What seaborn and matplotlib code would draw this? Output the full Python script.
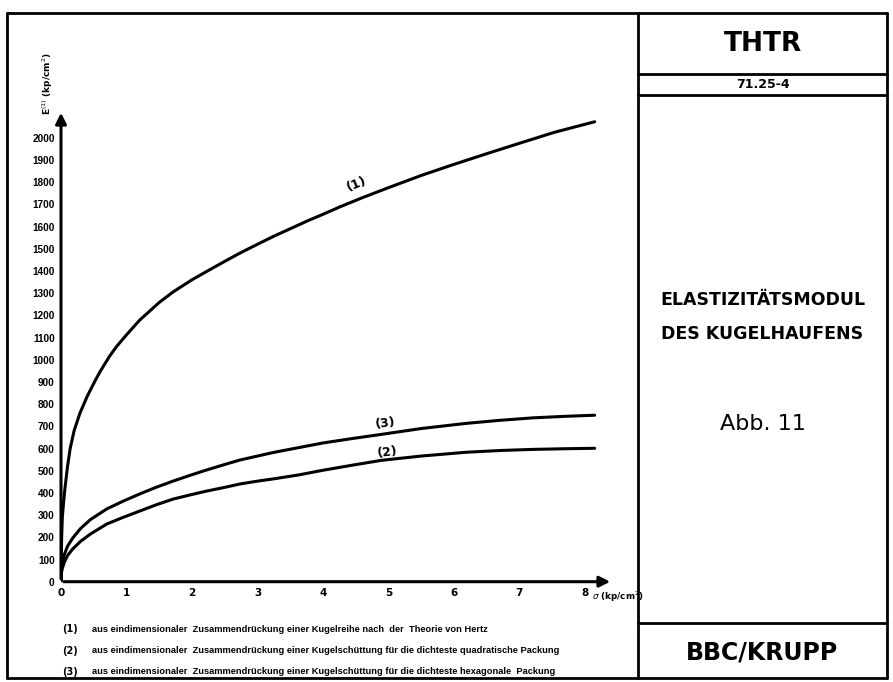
import matplotlib
matplotlib.use("Agg")
import matplotlib.pyplot as plt
import seaborn as sns
from matplotlib.lines import Line2D

# curve readings (sigma in kp/cm2, E in kp/cm2)
sigma_1 = [0, 0.005, 0.01, 0.02, 0.04, 0.06, 0.1, 0.14, 0.2, 0.29, 0.4, 0.52,
           0.6, 0.74, 0.85, 1.0, 1.2, 1.5, 1.71, 2.0, 2.22, 2.5, 2.73, 3.0,
           3.24, 3.5, 3.76, 4.0, 4.27, 4.62, 5.0, 5.5, 6.0, 6.5, 7.0, 7.54, 8.15]
e_1 = [0, 130, 200, 290, 360, 420, 520, 600, 680, 760, 835, 905,
       948, 1015, 1060, 1112, 1178, 1258, 1305, 1360, 1397, 1443, 1480, 1520,
       1555, 1590, 1625, 1655, 1690, 1732, 1775, 1830, 1880, 1928, 1975, 2025, 2072]

sigma_23 = [0, 0.005, 0.01, 0.02, 0.05, 0.1, 0.18, 0.3, 0.45, 0.7, 0.95,
            1.2, 1.45, 1.71, 2.0, 2.22, 2.5, 2.73, 3.0, 3.24, 3.63, 4.0,
            4.45, 4.9, 5.5, 6.18, 6.7, 7.2, 7.7, 8.15]
e_3 = [0, 45, 67, 90, 122, 160, 197, 240, 280, 328, 363,
       395, 425, 453, 482, 503, 528, 548, 566, 582, 604, 625,
       645, 664, 690, 713, 727, 738, 745, 750]
e_2 = [0, 30, 45, 60, 87, 118, 148, 182, 215, 260, 290,
       318, 346, 372, 393, 408, 425, 440, 453, 463, 481, 502,
       525, 547, 566, 583, 591, 596, 599, 601]

x_ticks = list(range(0, 9))
y_ticks = list(range(0, 2001, 100))

legend_lines = [
    ("(1)", "aus eindimensionaler  Zusammendrückung einer Kugelreihe nach  der  Theorie von Hertz"),
    ("(2)", "aus eindimensionaler  Zusammendrückung einer Kugelschüttung für die dichteste quadratische Packung"),
    ("(3)", "aus eindimensionaler  Zusammendrückung einer Kugelschüttung für die dichteste hexagonale  Packung"),
]

sns.set_style("white")
plt.rcParams['font.family'] = ['DejaVu Sans']
for key in ["text.color", "axes.labelcolor", "xtick.color", "ytick.color"]:
    plt.rcParams[key] = "black"

narrow = ['Liberation Sans', 'DejaVu Sans']

W, H = 893, 682
fig = plt.figure(figsize=(W / 100, H / 100), dpi=100)

def fx(px):
    return px / W

def fy(py):
    return 1 - py / H

# axes placed so data 0 sits on the drawn axes
ax = fig.add_axes([fx(61), fy(581.7), fx(613) - fx(61), fy(110) - fy(581.7)])
ax.set_xlim(0, 8.43)
ax.set_ylim(0, 2125)

for s, e in [(sigma_1, e_1), (sigma_23, e_3), (sigma_23, e_2)]:
    sns.lineplot(x=s, y=e, ax=ax, color="black", linewidth=2.2,
                 estimator=None, sort=False)

for sp in ax.spines.values():
    sp.set_visible(False)

# axis arrows
arrow = dict(arrowstyle="-|>", color="black", lw=2.2, mutation_scale=16)
ax.annotate("", xy=(0, 1), xytext=(0, 0), xycoords="axes fraction", arrowprops=arrow)
ax.annotate("", xy=(1, 0), xytext=(0, 0), xycoords="axes fraction", arrowprops=arrow)

ax.set_xticks(x_ticks)
ax.set_yticks(y_ticks)
ax.set_xticklabels([str(t) for t in x_ticks], fontsize=7.5, fontweight="bold")
ax.set_yticklabels([str(t) for t in y_ticks], fontsize=7.2, fontweight="bold", family=narrow)
ax.tick_params(axis="both", direction="inout", length=5, width=1.4, color="black", pad=2)
ax.set_xlabel("")
ax.set_ylabel("")
ax.grid(False)

# curve labels
ax.text(4.52, 1790, "(1)", fontsize=9, fontweight="bold", rotation=22, ha="center", va="center")
ax.text(4.95, 712, "(3)", fontsize=9, fontweight="bold", rotation=7, ha="center", va="center")
ax.text(4.99, 584, "(2)", fontsize=9, fontweight="bold", rotation=7, ha="center", va="center")

# axis titles
fig.text(fx(48), fy(84), r"E$^{(1)}$ (kp/cm$^2$)", rotation=90, fontsize=6.5,
         fontweight="bold", ha="center", va="center")
fig.text(fx(592), fy(597), r"$\sigma$ (kp/cm$^2$)", fontsize=6.3, fontweight="bold",
         ha="left", va="center")

# explanation lines under the chart
for i, (num, txt) in enumerate(legend_lines):
    y = fy(629 + i * 21.5)
    fig.text(fx(62), y, num, fontsize=7, fontweight="bold", va="center")
    fig.text(fx(92), y, txt, fontsize=6.7, fontweight="bold", family=narrow, va="center")

# drawing frame and title block
frame = dict(color="black", lw=2.0)
fig.add_artist(Line2D([fx(7), fx(887)], [fy(13), fy(13)], **frame))
fig.add_artist(Line2D([fx(7), fx(887)], [fy(678), fy(678)], **frame))
fig.add_artist(Line2D([fx(7), fx(7)], [fy(13), fy(678)], **frame))
fig.add_artist(Line2D([fx(887), fx(887)], [fy(13), fy(678)], **frame))
fig.add_artist(Line2D([fx(638), fx(638)], [fy(13), fy(678)], **frame))
fig.add_artist(Line2D([fx(638), fx(887)], [fy(74), fy(74)], **frame))
fig.add_artist(Line2D([fx(638), fx(887)], [fy(95), fy(95)], **frame))
fig.add_artist(Line2D([fx(638), fx(887)], [fy(623), fy(623)], **frame))

cx = fx(762.5)
fig.text(cx, fy(44), "THTR", fontsize=19, fontweight="bold", ha="center", va="center")
fig.text(cx, fy(84), "71.25-4", fontsize=9, fontweight="bold", ha="center", va="center")
fig.text(cx, fy(300), "ELASTIZITÄTSMODUL", fontsize=12.5, fontweight="bold", ha="center", va="center")
fig.text(cx, fy(334), "DES KUGELHAUFENS", fontsize=12.5, fontweight="bold", ha="center", va="center")
fig.text(cx, fy(424), "Abb. 11", fontsize=16, ha="center", va="center")
fig.text(cx, fy(652), "BBC/KRUPP", fontsize=17, fontweight="bold", ha="center", va="center")

fig.savefig("out.png", dpi=100)
